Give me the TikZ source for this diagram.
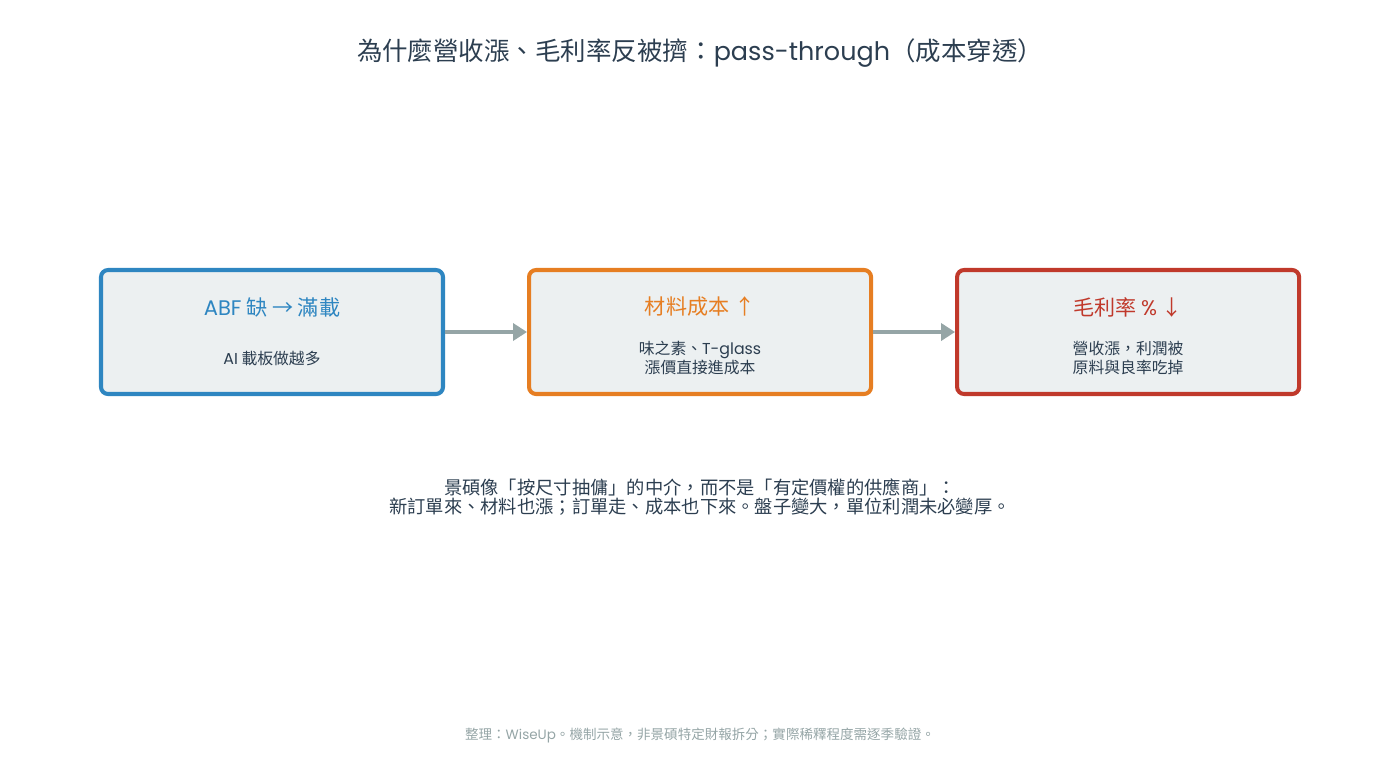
\documentclass[tikz,border=0pt]{standalone}
\usepackage{fontspec}
\setmainfont{Noto Sans CJK TC}
\newfontfamily\latinfont{Poppins}
\newcommand{\lat}[1]{{\latinfont #1}}
\usetikzlibrary{arrows.meta, positioning}
\definecolor{inkdark}{HTML}{2C3E50}
\definecolor{supply}{HTML}{2E86C1}
\definecolor{costup}{HTML}{E67E22}
\definecolor{margin}{HTML}{C0392B}
\definecolor{boxbg}{HTML}{ECF0F1}
\definecolor{flowgray}{HTML}{95A5A6}
\tikzset{
    stage/.style={
        rectangle, rounded corners=4pt, minimum width=6.84cm, minimum height=2.48cm,
        fill=boxbg, line width=2.3pt
    },
    head/.style={
        font=\fontsize{12}{14}\selectfont, text centered
    },
    body/.style={
        font=\fontsize{9}{10.8}\selectfont, text=inkdark, align=center
    },
    flow/.style={
        -{Triangle[length=0.28cm, width=0.34cm]}, line width=2.3pt, draw=flowgray
    }
}
\begin{document}
\begin{tikzpicture}[node distance=1.64cm]

    \useasboundingbox (0,0) rectangle (28,-15.12);

    \node[font=\fontsize{14.5}{16}\selectfont, text=inkdark] (title) at (14,-1.06)
        {為什麼營收漲、毛利率反被擠：\lat{pass-through}（成本穿透）};

    \node[stage, draw=supply]                 (abf)    at (5.44,-6.64) {};
    \node[stage, draw=costup, right=of abf]   (cost)   {};
    \node[stage, draw=margin, right=of cost]  (gm)     {};

    \node[head, text=supply] (abfhead)  at ([yshift=0.5cm]abf.center)  {\lat{ABF} 缺 → 滿載};
    \node[head, text=costup] (costhead) at ([yshift=0.5cm]cost.center) {材料成本 ↑};
    \node[head, text=margin] (gmhead)   at ([yshift=0.5cm]gm.center)   {毛利率 \lat{\%} ↓};

    \node[body] (abfbody)  at ([yshift=-0.52cm]abf.center)  {\lat{AI} 載板做越多};
    \node[body] (costbody) at ([yshift=-0.52cm]cost.center) {味之素、\lat{T-glass}\\漲價直接進成本};
    \node[body] (gmbody)   at ([yshift=-0.52cm]gm.center)   {營收漲，利潤被\\原料與良率吃掉};

    \draw[flow] (abf)  -- (cost);
    \draw[flow] (cost) -- (gm);

    \node[font=\fontsize{10.4}{10.8}\selectfont, text=inkdark, align=center] (note) at (14,-9.95)
        {景碩像「按尺寸抽傭」的中介，而不是「有定價權的供應商」：\\
         新訂單來、材料也漲；訂單走、成本也下來。盤子變大，單位利潤未必變厚。};

    \node[font=\fontsize{7.7}{9}\selectfont, text=flowgray] (source) at (14,-14.7)
        {整理：\lat{WiseUp}。機制示意，非景碩特定財報拆分；實際稀釋程度需逐季驗證。};

\end{tikzpicture}
\end{document}
